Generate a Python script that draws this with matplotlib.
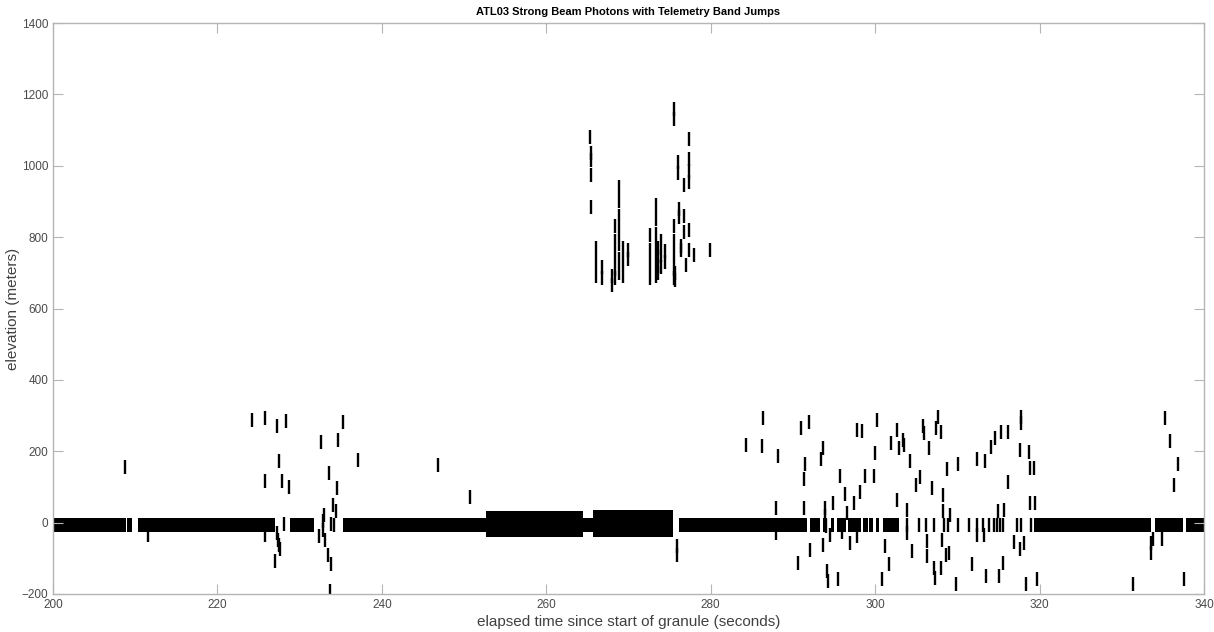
import numpy as np
import matplotlib
matplotlib.use("Agg")
import matplotlib.pyplot as plt

plt.rcParams['font.family'] = ['Liberation Sans', 'DejaVu Sans']

# ---- dense surface band segments (time start/end, elevation low/high) ----
band_start = [200.0, 209.05, 210.3, 228.85, 235.3, 252.7, 264.5, 265.7, 276.2,
              292.1, 293.7, 294.6, 295.3, 296.7, 298.5, 299.3, 300.1, 301.0,
              319.3, 334.0, 337.8]
band_end = [208.9, 209.65, 226.95, 231.8, 252.7, 264.5, 265.7, 275.4, 291.7,
            293.3, 294.2, 295.0, 296.5, 298.3, 299.1, 299.7, 300.5, 302.9,
            333.6, 337.5, 340.0]
band_low = [-27, -27, -27, -27, -27, -39, -27, -39, -27,
            -27, -27, -27, -27, -27, -27, -27, -27, -27,
            -27, -27, -27]
band_high = [13, 13, 13, 13, 13, 33, 13, 35, 13,
             13, 13, 13, 13, 13, 13, 13, 13, 13,
             13, 13, 13]

# ---- individual photons (time in s, elevation in m) ----
photon_t = [
    # 205-252 s
    208.8, 211.6, 224.2, 225.8, 225.8, 225.8, 227.3, 228.3, 227.5, 227.8, 228.7,
    228.1, 227.3, 227.4, 227.5, 227.6, 227.0, 232.6, 234.7, 235.3, 237.1, 233.6,
    234.6, 234.1, 234.4, 233.0, 233.8, 234.2, 232.9, 232.9, 232.3, 233.1, 233.5,
    233.8, 233.7, 246.8, 250.7,
    # high-elevation cluster 265-280 s
    265.3, 265.4, 265.4, 265.4, 265.4,
    266.1, 266.1, 266.1, 266.8, 266.8, 268.0, 268.0,
    268.4, 268.4, 268.4, 268.4, 268.4,
    268.9, 268.9, 268.9, 268.9, 268.9, 268.9, 268.9,
    269.3, 269.3, 269.3, 269.9, 269.9,
    272.6, 272.6, 272.6, 272.6,
    273.3, 273.3, 273.3, 273.3, 273.3, 273.3,
    273.6, 273.6, 273.6, 273.6,
    274.0, 274.0, 274.0, 274.4, 274.4,
    275.5, 275.5, 275.5, 275.5, 275.5, 275.5, 275.5,
    275.7, 275.7, 276.0, 276.0, 276.1, 276.1, 276.7, 276.7, 276.7,
    276.4, 276.4, 277.4, 277.4, 277.4, 277.4, 277.3, 277.0, 277.4, 278.0, 279.9,
    275.9, 275.9,
    # 284-320 s
    284.3, 286.4, 286.2, 288.2, 288.0, 287.9,
    291.0, 292.0, 291.5, 291.3, 291.3, 292.1, 290.6,
    293.7, 293.4, 293.9, 293.9, 294.0, 294.5, 293.7, 294.2, 294.3, 295.5,
    295.7, 296.3, 294.9, 297.4, 298.1, 296.6, 296.0, 297.0, 297.8,
    297.8, 298.4, 300.2, 300.0, 298.8, 299.9,
    301.9, 302.7, 302.9, 302.7, 301.2, 301.7, 300.8,
    303.4, 303.5, 304.2, 303.9, 303.9, 304.5,
    305.8, 306.0, 306.6, 307.4, 307.7, 308.0, 305.0, 305.5, 306.9, 308.2, 308.8,
    310.1, 308.3, 309.1,
    306.3, 306.3, 308.1, 308.6, 309.0, 307.1, 307.3, 308.0, 309.8, 311.8,
    312.4, 313.4, 314.1, 314.6, 315.3, 316.1, 317.7, 317.7, 317.6, 318.7, 318.8,
    319.3, 316.1, 318.8, 319.5, 314.9, 315.7,
    312.4, 313.2, 316.9, 317.6, 318.1, 313.5, 315.1, 315.5, 318.3, 319.7,
    # photons inside the broken surface band
    303.9, 305.3, 306.2, 307.2, 308.4, 308.9, 310.1, 311.4, 312.4, 313.1, 313.8,
    314.4, 314.8, 315.2, 315.6, 317.3, 317.7, 319.0,
    # 330-340 s
    335.3, 335.9, 336.8, 336.4, 333.6, 333.8, 333.5, 334.9, 331.4, 337.6,
]
photon_h = [
    155, -34, 288, 293, 117, -34, 272, 285, 173, 118, 99,
    -4, -30, -48, -62, -75, -108, 227, 232, 283, 176, 139,
    97, 48, 32, 20, -3, -8, 5, -20, -38, -48, -90,
    -117, -192, 162, 72,
    1081, 1035, 1015, 973, 885,
    770, 730, 690, 715, 685, 690, 665,
    830, 790, 750, 710, 685,
    940, 900, 860, 820, 780, 740, 700,
    770, 730, 690, 765, 740,
    805, 765, 725, 685,
    890, 850, 810, 770, 730, 690,
    770, 745, 720, 700,
    790, 750, 715, 760, 730,
    1160, 1130, 830, 790, 750, 710, 685,
    700, 680, 1010, 980, 880, 855, 945, 860, 815,
    775, 765, 1075, 1020, 985, 955, 820, 722, 765, 750, 765,
    -66, -90,
    217, 293, 216, 186, 41, -29,
    265, 283, 165, 122, 41, -76, -113,
    209, 178, 42, 18, -10, -34, -62, -136, -164, -159,
    130, 80, 55, 55, 85, 27, -27, -57, -38,
    260, 257, 288, 195, 131, 131,
    223, 260, 209, 63, -66, -116, -157,
    232, 218, 172, 36, -30, -80,
    272, 251, 209, 265, 295, 255, 106, 129, 97, 78, 150,
    164, 32, 22,
    -52, -94, -48, -92, -85, -127, -155, -127, -173, -116,
    178, 173, 213, 238, 255, 255, 295, 280, 204, 199, 153,
    153, 114, 55, 55, 32, 36,
    -34, -34, -54, -74, -57, -149, -150, -113, -173, -157,
    -7, -7, -7, -7, -7, -7, -7, -7, -7, -7, -7,
    -7, -7, -7, -7, -7, -7, -7,
    293, 230, 164, 106, -57, -45, -85, -46, -171, -159,
]

x_ticks = [200, 220, 240, 260, 280, 300, 320, 340]
y_ticks = [-200, 0, 200, 400, 600, 800, 1000, 1200, 1400]

fig = plt.figure(figsize=(12.14, 6.32), dpi=100)
ax = fig.add_axes([53 / 1214, 38 / 632, 1151 / 1214, 571 / 632])

widths = [e - s for s, e in zip(band_start, band_end)]
heights = [h - l for l, h in zip(band_low, band_high)]
ax.bar(band_start, heights, width=widths, bottom=band_low, align='edge',
       color='black', linewidth=0)

ax.plot(photon_t, photon_h, linestyle='none', marker='|', color='black',
        markersize=9.5, markeredgewidth=1.7)

ax.set_xlim(200, 340)
ax.set_ylim(-200, 1400)
ax.set_xticks(x_ticks)
ax.set_yticks(y_ticks)

grey = '#b5b5b5'
for sp in ax.spines.values():
    sp.set_color(grey)
    sp.set_linewidth(1.0)
ax.tick_params(direction='in', length=7, width=0.8, color=grey,
               labelcolor='#4a4a4a', labelsize=8.5, top=True, right=True)

ax.set_title('ATL03 Strong Beam Photons with Telemetry Band Jumps',
             fontsize=8, fontweight='bold', pad=6)
ax.set_xlabel('elapsed time since start of granule (seconds)', fontsize=11,
              color='#404040', labelpad=3)
ax.set_ylabel('elevation (meters)', fontsize=11, color='#404040', labelpad=1)

fig.savefig('out.png', dpi=100)
